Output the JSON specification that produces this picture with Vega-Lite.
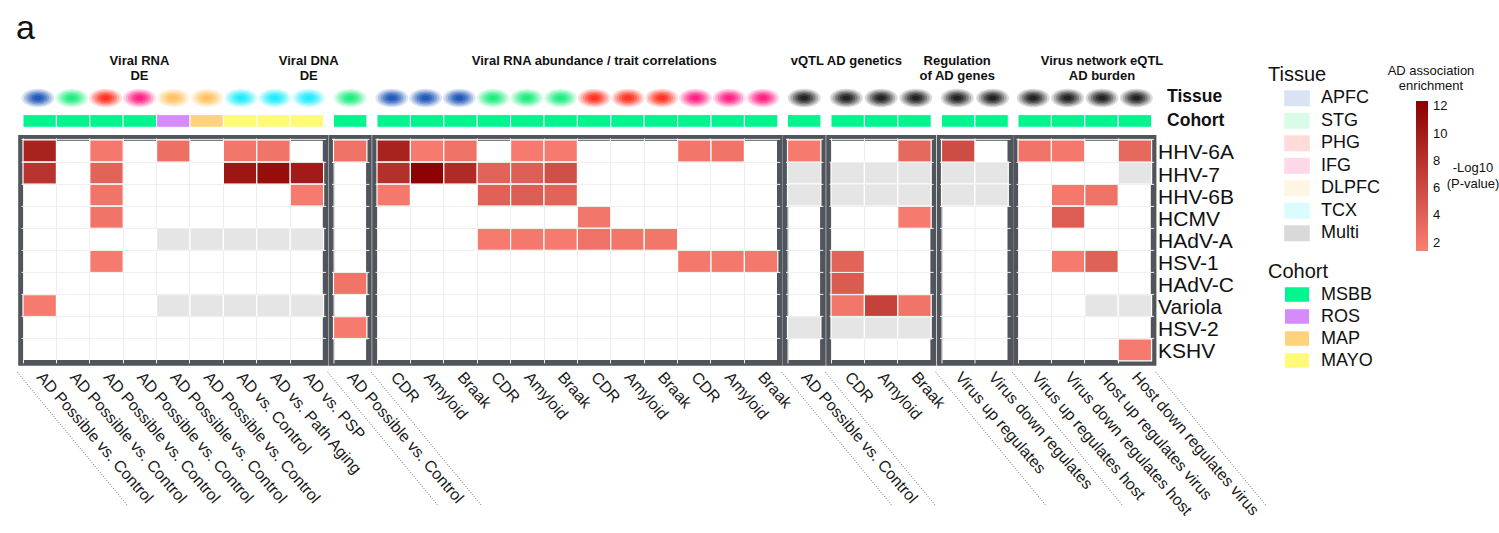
{
"$schema": "https://vega.github.io/schema/vega-lite/v6.json",
"background": "white",
"padding": {"left": 13, "top": 12, "right": 0, "bottom": 0},
"title": {"text": "a", "anchor": "start", "frame": "group", "dx": -5, "offset": -27, "baseline": "alphabetic", "fontSize": 34, "fontWeight": "normal", "color": "#111111"},
"columns": 7,
"spacing": {"row": 10.3, "column": 5.5},
"bounds": "flush",
"resolve": {"scale": {"color": "independent"}},
"config": {
  "view": {"stroke": null},
  "font": "Liberation Sans",
  "axis": {"labelFont": "Liberation Sans", "titleFont": "Liberation Sans"},
  "legend": {"labelFont": "Liberation Sans", "titleFont": "Liberation Sans"},
  "title": {"font": "Liberation Sans"},
  "text": {"font": "Liberation Sans"}
},
"datasets": {
  "columns": [
    {"c": "01", "col": "01|AD Possible vs. Control", "group": "g1", "tissue": "APFC", "cohort": "MSBB"},
    {"c": "02", "col": "02|AD Possible vs. Control", "group": "g1", "tissue": "STG", "cohort": "MSBB"},
    {"c": "03", "col": "03|AD Possible vs. Control", "group": "g1", "tissue": "PHG", "cohort": "MSBB"},
    {"c": "04", "col": "04|AD Possible vs. Control", "group": "g1", "tissue": "IFG", "cohort": "MSBB"},
    {"c": "05", "col": "05|AD Possible vs. Control", "group": "g1", "tissue": "DLPFC", "cohort": "ROS"},
    {"c": "06", "col": "06|AD Possible vs. Control", "group": "g1", "tissue": "DLPFC", "cohort": "MAP"},
    {"c": "07", "col": "07|AD vs. Control", "group": "g1", "tissue": "TCX", "cohort": "MAYO"},
    {"c": "08", "col": "08|AD vs. Path Aging", "group": "g1", "tissue": "TCX", "cohort": "MAYO"},
    {"c": "09", "col": "09|AD vs. PSP", "group": "g1", "tissue": "TCX", "cohort": "MAYO"},
    {"c": "10", "col": "10|AD Possible vs. Control", "group": "g2", "tissue": "STG", "cohort": "MSBB"},
    {"c": "11", "col": "11|CDR", "group": "g3", "tissue": "APFC", "cohort": "MSBB"},
    {"c": "12", "col": "12|Amyloid", "group": "g3", "tissue": "APFC", "cohort": "MSBB"},
    {"c": "13", "col": "13|Braak", "group": "g3", "tissue": "APFC", "cohort": "MSBB"},
    {"c": "14", "col": "14|CDR", "group": "g3", "tissue": "STG", "cohort": "MSBB"},
    {"c": "15", "col": "15|Amyloid", "group": "g3", "tissue": "STG", "cohort": "MSBB"},
    {"c": "16", "col": "16|Braak", "group": "g3", "tissue": "STG", "cohort": "MSBB"},
    {"c": "17", "col": "17|CDR", "group": "g3", "tissue": "PHG", "cohort": "MSBB"},
    {"c": "18", "col": "18|Amyloid", "group": "g3", "tissue": "PHG", "cohort": "MSBB"},
    {"c": "19", "col": "19|Braak", "group": "g3", "tissue": "PHG", "cohort": "MSBB"},
    {"c": "20", "col": "20|CDR", "group": "g3", "tissue": "IFG", "cohort": "MSBB"},
    {"c": "21", "col": "21|Amyloid", "group": "g3", "tissue": "IFG", "cohort": "MSBB"},
    {"c": "22", "col": "22|Braak", "group": "g3", "tissue": "IFG", "cohort": "MSBB"},
    {"c": "23", "col": "23|AD Possible vs. Control", "group": "g4", "tissue": "Multi", "cohort": "MSBB"},
    {"c": "24", "col": "24|CDR", "group": "g5", "tissue": "Multi", "cohort": "MSBB"},
    {"c": "25", "col": "25|Amyloid", "group": "g5", "tissue": "Multi", "cohort": "MSBB"},
    {"c": "26", "col": "26|Braak", "group": "g5", "tissue": "Multi", "cohort": "MSBB"},
    {"c": "27", "col": "27|Virus up regulates", "group": "g6", "tissue": "Multi", "cohort": "MSBB"},
    {"c": "28", "col": "28|Virus down regulates", "group": "g6", "tissue": "Multi", "cohort": "MSBB"},
    {"c": "29", "col": "29|Virus up regulates host", "group": "g7", "tissue": "Multi", "cohort": "MSBB"},
    {"c": "30", "col": "30|Virus down regulates host", "group": "g7", "tissue": "Multi", "cohort": "MSBB"},
    {"c": "31", "col": "31|Host up regulates virus", "group": "g7", "tissue": "Multi", "cohort": "MSBB"},
    {"c": "32", "col": "32|Host down regulates virus", "group": "g7", "tissue": "Multi", "cohort": "MSBB"}
  ],
  "headers": [
    {"group": "g1", "col": "04|AD Possible vs. Control", "text": "Viral RNA\nDE"},
    {"group": "g1", "col": "09|AD vs. PSP", "text": "Viral DNA\nDE"},
    {"group": "g3", "col": "17|CDR", "text": "Viral RNA abundance / trait correlations"},
    {"group": "g5", "col": "24|CDR", "text": "vQTL AD genetics"},
    {"group": "g6", "col": "27|Virus up regulates", "text": "Regulation\nof AD genes"},
    {"group": "g7", "col": "31|Host up regulates virus", "text": "Virus network eQTL\nAD burden"}
  ],
  "cells": [
    {"c": "01", "virus": "HHV-6A", "p": 9.5},
    {"c": "03", "virus": "HHV-6A", "p": 2.0},
    {"c": "05", "virus": "HHV-6A", "p": 2.8},
    {"c": "07", "virus": "HHV-6A", "p": 2.2},
    {"c": "08", "virus": "HHV-6A", "p": 2.4},
    {"c": "01", "virus": "HHV-7", "p": 7.9},
    {"c": "03", "virus": "HHV-7", "p": 3.8},
    {"c": "07", "virus": "HHV-7", "p": 10.5},
    {"c": "08", "virus": "HHV-7", "p": 11.3},
    {"c": "09", "virus": "HHV-7", "p": 10.1},
    {"c": "03", "virus": "HHV-6B", "p": 2.4},
    {"c": "09", "virus": "HHV-6B", "p": 1.8},
    {"c": "03", "virus": "HCMV", "p": 2.4},
    {"c": "05", "virus": "HAdV-A", "p": null},
    {"c": "06", "virus": "HAdV-A", "p": null},
    {"c": "07", "virus": "HAdV-A", "p": null},
    {"c": "08", "virus": "HAdV-A", "p": null},
    {"c": "09", "virus": "HAdV-A", "p": null},
    {"c": "03", "virus": "HSV-1", "p": 1.8},
    {"c": "01", "virus": "Variola", "p": 1.8},
    {"c": "05", "virus": "Variola", "p": null},
    {"c": "06", "virus": "Variola", "p": null},
    {"c": "07", "virus": "Variola", "p": null},
    {"c": "08", "virus": "Variola", "p": null},
    {"c": "09", "virus": "Variola", "p": null},
    {"c": "10", "virus": "HHV-6A", "p": 2.6},
    {"c": "10", "virus": "HAdV-C", "p": 2.4},
    {"c": "10", "virus": "HSV-2", "p": 1.8},
    {"c": "11", "virus": "HHV-6A", "p": 9.5},
    {"c": "12", "virus": "HHV-6A", "p": 1.8},
    {"c": "13", "virus": "HHV-6A", "p": 2.6},
    {"c": "15", "virus": "HHV-6A", "p": 1.8},
    {"c": "16", "virus": "HHV-6A", "p": 1.8},
    {"c": "20", "virus": "HHV-6A", "p": 2.2},
    {"c": "21", "virus": "HHV-6A", "p": 2.4},
    {"c": "11", "virus": "HHV-7", "p": 8.3},
    {"c": "12", "virus": "HHV-7", "p": 12.2},
    {"c": "13", "virus": "HHV-7", "p": 8.7},
    {"c": "14", "virus": "HHV-7", "p": 3.8},
    {"c": "15", "virus": "HHV-7", "p": 4.2},
    {"c": "16", "virus": "HHV-7", "p": 5.6},
    {"c": "11", "virus": "HHV-6B", "p": 2.0},
    {"c": "14", "virus": "HHV-6B", "p": 4.0},
    {"c": "15", "virus": "HHV-6B", "p": 4.4},
    {"c": "16", "virus": "HHV-6B", "p": 3.8},
    {"c": "17", "virus": "HCMV", "p": 2.2},
    {"c": "14", "virus": "HAdV-A", "p": 1.8},
    {"c": "15", "virus": "HAdV-A", "p": 2.0},
    {"c": "16", "virus": "HAdV-A", "p": 1.8},
    {"c": "17", "virus": "HAdV-A", "p": 2.6},
    {"c": "18", "virus": "HAdV-A", "p": 2.2},
    {"c": "19", "virus": "HAdV-A", "p": 2.2},
    {"c": "20", "virus": "HSV-1", "p": 2.0},
    {"c": "21", "virus": "HSV-1", "p": 2.0},
    {"c": "22", "virus": "HSV-1", "p": 2.0},
    {"c": "23", "virus": "HHV-6A", "p": 1.8},
    {"c": "23", "virus": "HHV-7", "p": null},
    {"c": "23", "virus": "HHV-6B", "p": null},
    {"c": "23", "virus": "HSV-2", "p": null},
    {"c": "26", "virus": "HHV-6A", "p": 3.4},
    {"c": "24", "virus": "HHV-7", "p": null},
    {"c": "25", "virus": "HHV-7", "p": null},
    {"c": "26", "virus": "HHV-7", "p": null},
    {"c": "24", "virus": "HHV-6B", "p": null},
    {"c": "25", "virus": "HHV-6B", "p": null},
    {"c": "26", "virus": "HHV-6B", "p": null},
    {"c": "26", "virus": "HCMV", "p": 1.8},
    {"c": "24", "virus": "HSV-1", "p": 3.8},
    {"c": "24", "virus": "HAdV-C", "p": 4.6},
    {"c": "24", "virus": "Variola", "p": 2.2},
    {"c": "25", "virus": "Variola", "p": 6.7},
    {"c": "26", "virus": "Variola", "p": 2.4},
    {"c": "24", "virus": "HSV-2", "p": null},
    {"c": "25", "virus": "HSV-2", "p": null},
    {"c": "26", "virus": "HSV-2", "p": null},
    {"c": "27", "virus": "HHV-6A", "p": 5.9},
    {"c": "27", "virus": "HHV-7", "p": null},
    {"c": "28", "virus": "HHV-7", "p": null},
    {"c": "27", "virus": "HHV-6B", "p": null},
    {"c": "28", "virus": "HHV-6B", "p": null},
    {"c": "29", "virus": "HHV-6A", "p": 2.4},
    {"c": "30", "virus": "HHV-6A", "p": 2.0},
    {"c": "32", "virus": "HHV-6A", "p": 3.4},
    {"c": "32", "virus": "HHV-7", "p": null},
    {"c": "30", "virus": "HHV-6B", "p": 2.0},
    {"c": "31", "virus": "HHV-6B", "p": 2.6},
    {"c": "30", "virus": "HCMV", "p": 4.4},
    {"c": "30", "virus": "HSV-1", "p": 1.8},
    {"c": "31", "virus": "HSV-1", "p": 4.0},
    {"c": "31", "virus": "Variola", "p": null},
    {"c": "32", "virus": "Variola", "p": null},
    {"c": "32", "virus": "KSHV", "p": 1.8}
  ]
},
"concat": [
  {
    "width": 304.6, "height": 36,
    "encoding": {"x": {"field": "col", "type": "nominal", "scale": {"paddingInner": 0, "paddingOuter": 0.06}, "axis": null}},
    "layer": [
      {"data": {"name": "columns"}, "transform": [{"filter": "datum.group == 'g1'"}], "mark": {"type": "point", "opacity": 0}},
      {"data": {"name": "headers"}, "transform": [{"filter": "datum.col == '04|AD Possible vs. Control'"}],
       "mark": {"type": "text", "fontSize": 13, "fontWeight": "bold", "lineBreak": "\n", "lineHeight": 15, "align": "center", "baseline": "middle", "dy": -3, "color": "#111111"},
       "encoding": {"x": {"field": "col", "type": "nominal", "bandPosition": 0.45, "axis": null}, "text": {"field": "text"}}},
      {"data": {"name": "headers"}, "transform": [{"filter": "datum.col == '09|AD vs. PSP'"}],
       "mark": {"type": "text", "fontSize": 13, "fontWeight": "bold", "lineBreak": "\n", "lineHeight": 15, "align": "center", "baseline": "middle", "dy": -3, "color": "#111111"},
       "encoding": {"x": {"field": "col", "type": "nominal", "bandPosition": 0.3, "axis": null}, "text": {"field": "text"}}}
    ]
  },
  {
    "width": 37.4, "height": 36,
    "data": {"name": "columns"}, "transform": [{"filter": "datum.group == 'g2'"}],
    "mark": {"type": "point", "opacity": 0},
    "encoding": {"x": {"field": "col", "type": "nominal", "axis": null}}
  },
  {
    "width": 404.8, "height": 36,
    "encoding": {"x": {"field": "col", "type": "nominal", "scale": {"paddingInner": 0, "paddingOuter": 0.06}, "axis": null}},
    "layer": [
      {"data": {"name": "columns"}, "transform": [{"filter": "datum.group == 'g3'"}], "mark": {"type": "point", "opacity": 0}},
      {"data": {"name": "headers"}, "transform": [{"filter": "datum.group == 'g3'"}],
       "mark": {"type": "text", "fontSize": 13, "fontWeight": "bold", "lineBreak": "\n", "lineHeight": 15, "align": "center", "baseline": "middle", "dy": -3, "color": "#111111"},
       "encoding": {"x": {"field": "col", "type": "nominal", "bandPosition": 0, "axis": null}, "text": {"field": "text"}}}
    ]
  },
  {
    "width": 37.4, "height": 36,
    "data": {"name": "columns"}, "transform": [{"filter": "datum.group == 'g4'"}],
    "mark": {"type": "point", "opacity": 0},
    "encoding": {"x": {"field": "col", "type": "nominal", "axis": null}}
  },
  {
    "width": 104.2, "height": 36,
    "encoding": {"x": {"field": "col", "type": "nominal", "scale": {"paddingInner": 0, "paddingOuter": 0.06}, "axis": null}},
    "layer": [
      {"data": {"name": "columns"}, "transform": [{"filter": "datum.group == 'g5'"}], "mark": {"type": "point", "opacity": 0}},
      {"data": {"name": "headers"}, "transform": [{"filter": "datum.group == 'g5'"}],
       "mark": {"type": "text", "fontSize": 13, "fontWeight": "bold", "lineBreak": "\n", "lineHeight": 15, "align": "center", "baseline": "middle", "dy": -3, "color": "#111111"},
       "encoding": {"x": {"field": "col", "type": "nominal", "bandPosition": 0.1, "axis": null}, "text": {"field": "text"}}}
    ]
  },
  {
    "width": 70.8, "height": 36,
    "encoding": {"x": {"field": "col", "type": "nominal", "scale": {"paddingInner": 0, "paddingOuter": 0.06}, "axis": null}},
    "layer": [
      {"data": {"name": "columns"}, "transform": [{"filter": "datum.group == 'g6'"}], "mark": {"type": "point", "opacity": 0}},
      {"data": {"name": "headers"}, "transform": [{"filter": "datum.group == 'g6'"}],
       "mark": {"type": "text", "fontSize": 13, "fontWeight": "bold", "lineBreak": "\n", "lineHeight": 15, "align": "center", "baseline": "middle", "dy": -3, "color": "#111111"},
       "encoding": {"x": {"field": "col", "type": "nominal", "bandPosition": 0.33, "axis": null}, "text": {"field": "text"}}}
    ]
  },
  {
    "width": 137.6, "height": 36,
    "encoding": {"x": {"field": "col", "type": "nominal", "scale": {"paddingInner": 0, "paddingOuter": 0.06}, "axis": null}},
    "layer": [
      {"data": {"name": "columns"}, "transform": [{"filter": "datum.group == 'g7'"}], "mark": {"type": "point", "opacity": 0}},
      {"data": {"name": "headers"}, "transform": [{"filter": "datum.group == 'g7'"}],
       "mark": {"type": "text", "fontSize": 13, "fontWeight": "bold", "lineBreak": "\n", "lineHeight": 15, "align": "center", "baseline": "middle", "dy": -3, "color": "#111111"},
       "encoding": {"x": {"field": "col", "type": "nominal", "bandPosition": 0.15, "axis": null}, "text": {"field": "text"}}}
    ]
  },

  {
    "width": 304.6, "height": 11.4,
    "data": {"name": "columns"}, "transform": [{"filter": "datum.group == 'g1'"}],
    "encoding": {
      "x": {"field": "col", "type": "nominal", "scale": {"paddingInner": 0, "paddingOuter": 0.06}, "axis": null},
      "y": {"datum": "Tissue", "type": "nominal", "scale": {"paddingInner": 0, "paddingOuter": 0}, "axis": null},
      "color": {"field": "tissue", "type": "nominal",
        "scale": {"domain": ["APFC", "STG", "PHG", "IFG", "DLPFC", "TCX", "Multi"], "range": ["#0040b0", "#00ea6d", "#ff1500", "#ff0074", "#ffba4c", "#00eaff", "#000000"]},
        "legend": {"orient": "none", "legendX": 1247, "legendY": -27, "title": "Tissue", "titleFontSize": 20, "titleFontWeight": "normal", "titleColor": "#111111", "titlePadding": 4,
          "labelFontSize": 18, "labelColor": "#111111", "labelOffset": 15, "symbolType": "M-1.6,-1H1.6V1H-1.6Z", "symbolSize": 256, "symbolOffset": 20, "rowPadding": 4.5, "padding": 0,
          "encode": {"symbols": {"update": {"opacity": {"value": 1}, "fillOpacity": {"value": 0.6}, "stroke": {"value": "#b9b9b9"}, "strokeWidth": {"value": 1}}}}}}
    },
    "layer": [
      {"mark": {"type": "point", "filled": true, "shape": "M-1,0A1,0.56,0,1,1,1,0A1,0.56,0,1,1,-1,0Z", "size": 1089, "opacity": 0.15, "strokeWidth": 0}},
      {"mark": {"type": "point", "filled": true, "shape": "M-1,0A1,0.56,0,1,1,1,0A1,0.56,0,1,1,-1,0Z", "size": 784, "opacity": 0.2, "strokeWidth": 0}},
      {"mark": {"type": "point", "filled": true, "shape": "M-1,0A1,0.56,0,1,1,1,0A1,0.56,0,1,1,-1,0Z", "size": 529, "opacity": 0.25, "strokeWidth": 0}},
      {"mark": {"type": "point", "filled": true, "shape": "M-1,0A1,0.56,0,1,1,1,0A1,0.56,0,1,1,-1,0Z", "size": 324, "opacity": 0.3, "strokeWidth": 0}},
      {"mark": {"type": "point", "filled": true, "shape": "M-1,0A1,0.56,0,1,1,1,0A1,0.56,0,1,1,-1,0Z", "size": 169, "opacity": 0.35, "strokeWidth": 0}},
      {"mark": {"type": "point", "filled": true, "shape": "M-1,0A1,0.56,0,1,1,1,0A1,0.56,0,1,1,-1,0Z", "size": 64, "opacity": 0.4, "strokeWidth": 0}}
    ]
  },
  {
    "width": 37.4, "height": 11.4,
    "data": {"name": "columns"}, "transform": [{"filter": "datum.group == 'g2'"}],
    "encoding": {
      "x": {"field": "col", "type": "nominal", "scale": {"paddingInner": 0, "paddingOuter": 0.06}, "axis": null},
      "y": {"datum": "Tissue", "type": "nominal", "scale": {"paddingInner": 0, "paddingOuter": 0}, "axis": null},
      "color": {"field": "tissue", "type": "nominal", "legend": null, "scale": {"domain": ["APFC", "STG", "PHG", "IFG", "DLPFC", "TCX", "Multi"], "range": ["#0040b0", "#00ea6d", "#ff1500", "#ff0074", "#ffba4c", "#00eaff", "#000000"]}}
    },
    "layer": [
      {"mark": {"type": "point", "filled": true, "shape": "M-1,0A1,0.56,0,1,1,1,0A1,0.56,0,1,1,-1,0Z", "size": 1089, "opacity": 0.15, "strokeWidth": 0}},
      {"mark": {"type": "point", "filled": true, "shape": "M-1,0A1,0.56,0,1,1,1,0A1,0.56,0,1,1,-1,0Z", "size": 784, "opacity": 0.2, "strokeWidth": 0}},
      {"mark": {"type": "point", "filled": true, "shape": "M-1,0A1,0.56,0,1,1,1,0A1,0.56,0,1,1,-1,0Z", "size": 529, "opacity": 0.25, "strokeWidth": 0}},
      {"mark": {"type": "point", "filled": true, "shape": "M-1,0A1,0.56,0,1,1,1,0A1,0.56,0,1,1,-1,0Z", "size": 324, "opacity": 0.3, "strokeWidth": 0}},
      {"mark": {"type": "point", "filled": true, "shape": "M-1,0A1,0.56,0,1,1,1,0A1,0.56,0,1,1,-1,0Z", "size": 169, "opacity": 0.35, "strokeWidth": 0}},
      {"mark": {"type": "point", "filled": true, "shape": "M-1,0A1,0.56,0,1,1,1,0A1,0.56,0,1,1,-1,0Z", "size": 64, "opacity": 0.4, "strokeWidth": 0}}
    ]
  },
  {
    "width": 404.8, "height": 11.4,
    "data": {"name": "columns"}, "transform": [{"filter": "datum.group == 'g3'"}],
    "encoding": {
      "x": {"field": "col", "type": "nominal", "scale": {"paddingInner": 0, "paddingOuter": 0.06}, "axis": null},
      "y": {"datum": "Tissue", "type": "nominal", "scale": {"paddingInner": 0, "paddingOuter": 0}, "axis": null},
      "color": {"field": "tissue", "type": "nominal", "legend": null, "scale": {"domain": ["APFC", "STG", "PHG", "IFG", "DLPFC", "TCX", "Multi"], "range": ["#0040b0", "#00ea6d", "#ff1500", "#ff0074", "#ffba4c", "#00eaff", "#000000"]}}
    },
    "layer": [
      {"mark": {"type": "point", "filled": true, "shape": "M-1,0A1,0.56,0,1,1,1,0A1,0.56,0,1,1,-1,0Z", "size": 1089, "opacity": 0.15, "strokeWidth": 0}},
      {"mark": {"type": "point", "filled": true, "shape": "M-1,0A1,0.56,0,1,1,1,0A1,0.56,0,1,1,-1,0Z", "size": 784, "opacity": 0.2, "strokeWidth": 0}},
      {"mark": {"type": "point", "filled": true, "shape": "M-1,0A1,0.56,0,1,1,1,0A1,0.56,0,1,1,-1,0Z", "size": 529, "opacity": 0.25, "strokeWidth": 0}},
      {"mark": {"type": "point", "filled": true, "shape": "M-1,0A1,0.56,0,1,1,1,0A1,0.56,0,1,1,-1,0Z", "size": 324, "opacity": 0.3, "strokeWidth": 0}},
      {"mark": {"type": "point", "filled": true, "shape": "M-1,0A1,0.56,0,1,1,1,0A1,0.56,0,1,1,-1,0Z", "size": 169, "opacity": 0.35, "strokeWidth": 0}},
      {"mark": {"type": "point", "filled": true, "shape": "M-1,0A1,0.56,0,1,1,1,0A1,0.56,0,1,1,-1,0Z", "size": 64, "opacity": 0.4, "strokeWidth": 0}}
    ]
  },
  {
    "width": 37.4, "height": 11.4,
    "data": {"name": "columns"}, "transform": [{"filter": "datum.group == 'g4'"}],
    "encoding": {
      "x": {"field": "col", "type": "nominal", "scale": {"paddingInner": 0, "paddingOuter": 0.06}, "axis": null},
      "y": {"datum": "Tissue", "type": "nominal", "scale": {"paddingInner": 0, "paddingOuter": 0}, "axis": null},
      "color": {"field": "tissue", "type": "nominal", "legend": null, "scale": {"domain": ["APFC", "STG", "PHG", "IFG", "DLPFC", "TCX", "Multi"], "range": ["#0040b0", "#00ea6d", "#ff1500", "#ff0074", "#ffba4c", "#00eaff", "#000000"]}}
    },
    "layer": [
      {"mark": {"type": "point", "filled": true, "shape": "M-1,0A1,0.56,0,1,1,1,0A1,0.56,0,1,1,-1,0Z", "size": 1089, "opacity": 0.15, "strokeWidth": 0}},
      {"mark": {"type": "point", "filled": true, "shape": "M-1,0A1,0.56,0,1,1,1,0A1,0.56,0,1,1,-1,0Z", "size": 784, "opacity": 0.2, "strokeWidth": 0}},
      {"mark": {"type": "point", "filled": true, "shape": "M-1,0A1,0.56,0,1,1,1,0A1,0.56,0,1,1,-1,0Z", "size": 529, "opacity": 0.25, "strokeWidth": 0}},
      {"mark": {"type": "point", "filled": true, "shape": "M-1,0A1,0.56,0,1,1,1,0A1,0.56,0,1,1,-1,0Z", "size": 324, "opacity": 0.3, "strokeWidth": 0}},
      {"mark": {"type": "point", "filled": true, "shape": "M-1,0A1,0.56,0,1,1,1,0A1,0.56,0,1,1,-1,0Z", "size": 169, "opacity": 0.35, "strokeWidth": 0}},
      {"mark": {"type": "point", "filled": true, "shape": "M-1,0A1,0.56,0,1,1,1,0A1,0.56,0,1,1,-1,0Z", "size": 64, "opacity": 0.4, "strokeWidth": 0}}
    ]
  },
  {
    "width": 104.2, "height": 11.4,
    "data": {"name": "columns"}, "transform": [{"filter": "datum.group == 'g5'"}],
    "encoding": {
      "x": {"field": "col", "type": "nominal", "scale": {"paddingInner": 0, "paddingOuter": 0.06}, "axis": null},
      "y": {"datum": "Tissue", "type": "nominal", "scale": {"paddingInner": 0, "paddingOuter": 0}, "axis": null},
      "color": {"field": "tissue", "type": "nominal", "legend": null, "scale": {"domain": ["APFC", "STG", "PHG", "IFG", "DLPFC", "TCX", "Multi"], "range": ["#0040b0", "#00ea6d", "#ff1500", "#ff0074", "#ffba4c", "#00eaff", "#000000"]}}
    },
    "layer": [
      {"mark": {"type": "point", "filled": true, "shape": "M-1,0A1,0.56,0,1,1,1,0A1,0.56,0,1,1,-1,0Z", "size": 1089, "opacity": 0.15, "strokeWidth": 0}},
      {"mark": {"type": "point", "filled": true, "shape": "M-1,0A1,0.56,0,1,1,1,0A1,0.56,0,1,1,-1,0Z", "size": 784, "opacity": 0.2, "strokeWidth": 0}},
      {"mark": {"type": "point", "filled": true, "shape": "M-1,0A1,0.56,0,1,1,1,0A1,0.56,0,1,1,-1,0Z", "size": 529, "opacity": 0.25, "strokeWidth": 0}},
      {"mark": {"type": "point", "filled": true, "shape": "M-1,0A1,0.56,0,1,1,1,0A1,0.56,0,1,1,-1,0Z", "size": 324, "opacity": 0.3, "strokeWidth": 0}},
      {"mark": {"type": "point", "filled": true, "shape": "M-1,0A1,0.56,0,1,1,1,0A1,0.56,0,1,1,-1,0Z", "size": 169, "opacity": 0.35, "strokeWidth": 0}},
      {"mark": {"type": "point", "filled": true, "shape": "M-1,0A1,0.56,0,1,1,1,0A1,0.56,0,1,1,-1,0Z", "size": 64, "opacity": 0.4, "strokeWidth": 0}}
    ]
  },
  {
    "width": 70.8, "height": 11.4,
    "data": {"name": "columns"}, "transform": [{"filter": "datum.group == 'g6'"}],
    "encoding": {
      "x": {"field": "col", "type": "nominal", "scale": {"paddingInner": 0, "paddingOuter": 0.06}, "axis": null},
      "y": {"datum": "Tissue", "type": "nominal", "scale": {"paddingInner": 0, "paddingOuter": 0}, "axis": null},
      "color": {"field": "tissue", "type": "nominal", "legend": null, "scale": {"domain": ["APFC", "STG", "PHG", "IFG", "DLPFC", "TCX", "Multi"], "range": ["#0040b0", "#00ea6d", "#ff1500", "#ff0074", "#ffba4c", "#00eaff", "#000000"]}}
    },
    "layer": [
      {"mark": {"type": "point", "filled": true, "shape": "M-1,0A1,0.56,0,1,1,1,0A1,0.56,0,1,1,-1,0Z", "size": 1089, "opacity": 0.15, "strokeWidth": 0}},
      {"mark": {"type": "point", "filled": true, "shape": "M-1,0A1,0.56,0,1,1,1,0A1,0.56,0,1,1,-1,0Z", "size": 784, "opacity": 0.2, "strokeWidth": 0}},
      {"mark": {"type": "point", "filled": true, "shape": "M-1,0A1,0.56,0,1,1,1,0A1,0.56,0,1,1,-1,0Z", "size": 529, "opacity": 0.25, "strokeWidth": 0}},
      {"mark": {"type": "point", "filled": true, "shape": "M-1,0A1,0.56,0,1,1,1,0A1,0.56,0,1,1,-1,0Z", "size": 324, "opacity": 0.3, "strokeWidth": 0}},
      {"mark": {"type": "point", "filled": true, "shape": "M-1,0A1,0.56,0,1,1,1,0A1,0.56,0,1,1,-1,0Z", "size": 169, "opacity": 0.35, "strokeWidth": 0}},
      {"mark": {"type": "point", "filled": true, "shape": "M-1,0A1,0.56,0,1,1,1,0A1,0.56,0,1,1,-1,0Z", "size": 64, "opacity": 0.4, "strokeWidth": 0}}
    ]
  },
  {
    "width": 137.6, "height": 11.4,
    "data": {"name": "columns"}, "transform": [{"filter": "datum.group == 'g7'"}],
    "encoding": {
      "x": {"field": "col", "type": "nominal", "scale": {"paddingInner": 0, "paddingOuter": 0.06}, "axis": null},
      "y": {"datum": "Tissue", "type": "nominal", "scale": {"paddingInner": 0, "paddingOuter": 0},
        "axis": {"orient": "right", "title": null, "ticks": false, "domain": false, "labelFontSize": 17.5, "labelFontWeight": "bold", "labelPadding": 13, "labelColor": "#111111", "labelOffset": -2}},
      "color": {"field": "tissue", "type": "nominal", "legend": null, "scale": {"domain": ["APFC", "STG", "PHG", "IFG", "DLPFC", "TCX", "Multi"], "range": ["#0040b0", "#00ea6d", "#ff1500", "#ff0074", "#ffba4c", "#00eaff", "#000000"]}}
    },
    "layer": [
      {"mark": {"type": "point", "filled": true, "shape": "M-1,0A1,0.56,0,1,1,1,0A1,0.56,0,1,1,-1,0Z", "size": 1089, "opacity": 0.15, "strokeWidth": 0}},
      {"mark": {"type": "point", "filled": true, "shape": "M-1,0A1,0.56,0,1,1,1,0A1,0.56,0,1,1,-1,0Z", "size": 784, "opacity": 0.2, "strokeWidth": 0}},
      {"mark": {"type": "point", "filled": true, "shape": "M-1,0A1,0.56,0,1,1,1,0A1,0.56,0,1,1,-1,0Z", "size": 529, "opacity": 0.25, "strokeWidth": 0}},
      {"mark": {"type": "point", "filled": true, "shape": "M-1,0A1,0.56,0,1,1,1,0A1,0.56,0,1,1,-1,0Z", "size": 324, "opacity": 0.3, "strokeWidth": 0}},
      {"mark": {"type": "point", "filled": true, "shape": "M-1,0A1,0.56,0,1,1,1,0A1,0.56,0,1,1,-1,0Z", "size": 169, "opacity": 0.35, "strokeWidth": 0}},
      {"mark": {"type": "point", "filled": true, "shape": "M-1,0A1,0.56,0,1,1,1,0A1,0.56,0,1,1,-1,0Z", "size": 64, "opacity": 0.4, "strokeWidth": 0}}
    ]
  },

  {
    "width": 304.6, "height": 12.7,
    "data": {"name": "columns"}, "transform": [{"filter": "datum.group == 'g1'"}],
    "mark": {"type": "rect", "stroke": "white", "strokeWidth": 1},
    "encoding": {
      "x": {"field": "col", "type": "nominal", "scale": {"paddingInner": 0, "paddingOuter": 0.06}, "axis": null},
      "y": {"datum": "Cohort", "type": "nominal", "scale": {"paddingInner": 0, "paddingOuter": 0}, "axis": null},
      "color": {"field": "cohort", "type": "nominal", "scale": {"domain": ["MSBB", "ROS", "MAP", "MAYO"], "range": ["#00f58f", "#d68bfc", "#ffd37c", "#fffb78"]},
        "legend": {"orient": "none", "legendX": 1247, "legendY": 147, "title": "Cohort", "titleFontSize": 20, "titleFontWeight": "normal", "titleColor": "#111111", "titlePadding": 4,
          "labelFontSize": 18, "labelColor": "#111111", "labelOffset": 15, "symbolType": "M-1.6,-1H1.6V1H-1.6Z", "symbolSize": 256, "symbolOffset": 20, "rowPadding": 0, "padding": 0,
          "encode": {"symbols": {"update": {"opacity": {"value": 1}, "fillOpacity": {"value": 1}, "stroke": {"value": "#b9b9b9"}, "strokeWidth": {"value": 1}}}}}}
    }
  },
  {
    "width": 37.4, "height": 12.7,
    "data": {"name": "columns"}, "transform": [{"filter": "datum.group == 'g2'"}],
    "mark": {"type": "rect", "stroke": "white", "strokeWidth": 1},
    "encoding": {
      "x": {"field": "col", "type": "nominal", "scale": {"paddingInner": 0, "paddingOuter": 0.06}, "axis": null},
      "y": {"datum": "Cohort", "type": "nominal", "scale": {"paddingInner": 0, "paddingOuter": 0}, "axis": null},
      "color": {"field": "cohort", "type": "nominal", "legend": null, "scale": {"domain": ["MSBB", "ROS", "MAP", "MAYO"], "range": ["#00f58f", "#d68bfc", "#ffd37c", "#fffb78"]}}
    }
  },
  {
    "width": 404.8, "height": 12.7,
    "data": {"name": "columns"}, "transform": [{"filter": "datum.group == 'g3'"}],
    "mark": {"type": "rect", "stroke": "white", "strokeWidth": 1},
    "encoding": {
      "x": {"field": "col", "type": "nominal", "scale": {"paddingInner": 0, "paddingOuter": 0.06}, "axis": null},
      "y": {"datum": "Cohort", "type": "nominal", "scale": {"paddingInner": 0, "paddingOuter": 0}, "axis": null},
      "color": {"field": "cohort", "type": "nominal", "legend": null, "scale": {"domain": ["MSBB", "ROS", "MAP", "MAYO"], "range": ["#00f58f", "#d68bfc", "#ffd37c", "#fffb78"]}}
    }
  },
  {
    "width": 37.4, "height": 12.7,
    "data": {"name": "columns"}, "transform": [{"filter": "datum.group == 'g4'"}],
    "mark": {"type": "rect", "stroke": "white", "strokeWidth": 1},
    "encoding": {
      "x": {"field": "col", "type": "nominal", "scale": {"paddingInner": 0, "paddingOuter": 0.06}, "axis": null},
      "y": {"datum": "Cohort", "type": "nominal", "scale": {"paddingInner": 0, "paddingOuter": 0}, "axis": null},
      "color": {"field": "cohort", "type": "nominal", "legend": null, "scale": {"domain": ["MSBB", "ROS", "MAP", "MAYO"], "range": ["#00f58f", "#d68bfc", "#ffd37c", "#fffb78"]}}
    }
  },
  {
    "width": 104.2, "height": 12.7,
    "data": {"name": "columns"}, "transform": [{"filter": "datum.group == 'g5'"}],
    "mark": {"type": "rect", "stroke": "white", "strokeWidth": 1},
    "encoding": {
      "x": {"field": "col", "type": "nominal", "scale": {"paddingInner": 0, "paddingOuter": 0.06}, "axis": null},
      "y": {"datum": "Cohort", "type": "nominal", "scale": {"paddingInner": 0, "paddingOuter": 0}, "axis": null},
      "color": {"field": "cohort", "type": "nominal", "legend": null, "scale": {"domain": ["MSBB", "ROS", "MAP", "MAYO"], "range": ["#00f58f", "#d68bfc", "#ffd37c", "#fffb78"]}}
    }
  },
  {
    "width": 70.8, "height": 12.7,
    "data": {"name": "columns"}, "transform": [{"filter": "datum.group == 'g6'"}],
    "mark": {"type": "rect", "stroke": "white", "strokeWidth": 1},
    "encoding": {
      "x": {"field": "col", "type": "nominal", "scale": {"paddingInner": 0, "paddingOuter": 0.06}, "axis": null},
      "y": {"datum": "Cohort", "type": "nominal", "scale": {"paddingInner": 0, "paddingOuter": 0}, "axis": null},
      "color": {"field": "cohort", "type": "nominal", "legend": null, "scale": {"domain": ["MSBB", "ROS", "MAP", "MAYO"], "range": ["#00f58f", "#d68bfc", "#ffd37c", "#fffb78"]}}
    }
  },
  {
    "width": 137.6, "height": 12.7,
    "data": {"name": "columns"}, "transform": [{"filter": "datum.group == 'g7'"}],
    "mark": {"type": "rect", "stroke": "white", "strokeWidth": 1},
    "encoding": {
      "x": {"field": "col", "type": "nominal", "scale": {"paddingInner": 0, "paddingOuter": 0.06}, "axis": null},
      "y": {"datum": "Cohort", "type": "nominal", "scale": {"paddingInner": 0, "paddingOuter": 0},
        "axis": {"orient": "right", "title": null, "ticks": false, "domain": false, "labelFontSize": 17.5, "labelFontWeight": "bold", "labelPadding": 13, "labelColor": "#111111"}},
      "color": {"field": "cohort", "type": "nominal", "legend": null, "scale": {"domain": ["MSBB", "ROS", "MAP", "MAYO"], "range": ["#00f58f", "#d68bfc", "#ffd37c", "#fffb78"]}}
    }
  },

  {
    "width": 304.6, "height": 225,
    "view": {"stroke": "#50545b", "strokeWidth": 5.6},
    "encoding": {
      "x": {"field": "col", "type": "nominal", "scale": {"paddingInner": 0, "paddingOuter": 0.06},
        "axis": {"title": null, "labelAngle": 49, "labelAlign": "left", "labelBaseline": "middle", "labelPadding": 11, "labelFontSize": 16, "labelColor": "#1a1a1a", "labelLimit": 400, "labelOverlap": false, "labelBound": false, "labelFlush": false, "labelExpr": "split(datum.value, '|')[1]", "ticks": false, "domain": false, "grid": true, "gridColor": "#eeeeee", "bandPosition": 0}},
      "y": {"field": "virus", "type": "nominal", "scale": {"domain": ["HHV-6A", "HHV-7", "HHV-6B", "HCMV", "HAdV-A", "HSV-1", "HAdV-C", "Variola", "HSV-2", "KSHV"], "paddingInner": 0, "paddingOuter": 0.09},
        "axis": {"title": null, "labels": false, "ticks": false, "domain": false, "grid": true, "gridColor": "#eeeeee", "bandPosition": 0}}
    },
    "layer": [
      {"data": {"name": "columns"}, "transform": [{"filter": "datum.group == 'g1'"}], "mark": {"type": "point", "opacity": 0}, "encoding": {"y": {"value": 0}}},
      {"data": {"name": "cells"}, "transform": [{"lookup": "c", "from": {"data": {"name": "columns"}, "key": "c", "fields": ["col", "group"]}}, {"filter": "datum.group == 'g1' && datum.p === null"}],
       "mark": {"type": "rect", "fill": "#e5e5e5", "stroke": "white", "strokeWidth": 1.2}},
      {"data": {"name": "cells"}, "transform": [{"lookup": "c", "from": {"data": {"name": "columns"}, "key": "c", "fields": ["col", "group"]}}, {"filter": "datum.group == 'g1' && datum.p !== null"}],
       "mark": {"type": "rect", "stroke": "white", "strokeWidth": 1.2},
       "encoding": {"color": {"field": "p", "type": "quantitative", "scale": {"domain": [1.4, 12.4], "range": ["#fa8072", "#8b0000"], "interpolate": "rgb"},
         "legend": {"orient": "none", "legendX": 1395, "legendY": -37, "direction": "vertical", "title": ["-Log10", "(P-value)"], "titleOrient": "right", "titleAnchor": "middle", "titleFontSize": 13, "titleFontWeight": "normal", "titleColor": "#111111", "titleLineHeight": 16, "titlePadding": 26,
           "gradientLength": 150, "gradientThickness": 12, "gradientStrokeWidth": 0, "labelFontSize": 13, "labelColor": "#111111", "labelOffset": 5, "labelOverlap": false, "values": [2, 4, 6, 8, 10, 12], "padding": 0,
           "encode": {"title": {"update": {"angle": {"value": 0}, "align": {"value": "center"}, "baseline": {"value": "middle"}}}}}}}},
      {"data": {"values": [{"edge": "start"}]}, "mark": {"type": "rule", "xOffset": -4, "yOffset": 9, "x2Offset": 106, "y2Offset": 142, "color": "#666666", "strokeWidth": 0.9, "strokeDash": [1, 1.6]},
       "encoding": {"x": {"value": 0}, "x2": {"value": 0}, "y": {"value": "height"}, "y2": {"value": "height"}}}
    ]
  },
  {
    "width": 37.4, "height": 225,
    "view": {"stroke": "#50545b", "strokeWidth": 5.6},
    "encoding": {
      "x": {"field": "col", "type": "nominal", "scale": {"paddingInner": 0, "paddingOuter": 0.06},
        "axis": {"title": null, "labelAngle": 49, "labelAlign": "left", "labelBaseline": "middle", "labelPadding": 11, "labelFontSize": 16, "labelColor": "#1a1a1a", "labelLimit": 400, "labelOverlap": false, "labelBound": false, "labelFlush": false, "labelExpr": "split(datum.value, '|')[1]", "ticks": false, "domain": false, "grid": true, "gridColor": "#eeeeee", "bandPosition": 0}},
      "y": {"field": "virus", "type": "nominal", "scale": {"domain": ["HHV-6A", "HHV-7", "HHV-6B", "HCMV", "HAdV-A", "HSV-1", "HAdV-C", "Variola", "HSV-2", "KSHV"], "paddingInner": 0, "paddingOuter": 0.09},
        "axis": {"title": null, "labels": false, "ticks": false, "domain": false, "grid": true, "gridColor": "#eeeeee", "bandPosition": 0}}
    },
    "layer": [
      {"data": {"name": "columns"}, "transform": [{"filter": "datum.group == 'g2'"}], "mark": {"type": "point", "opacity": 0}, "encoding": {"y": {"value": 0}}},
      {"data": {"name": "cells"}, "transform": [{"lookup": "c", "from": {"data": {"name": "columns"}, "key": "c", "fields": ["col", "group"]}}, {"filter": "datum.group == 'g2' && datum.p === null"}],
       "mark": {"type": "rect", "fill": "#e5e5e5", "stroke": "white", "strokeWidth": 1.2}},
      {"data": {"name": "cells"}, "transform": [{"lookup": "c", "from": {"data": {"name": "columns"}, "key": "c", "fields": ["col", "group"]}}, {"filter": "datum.group == 'g2' && datum.p !== null"}],
       "mark": {"type": "rect", "stroke": "white", "strokeWidth": 1.2},
       "encoding": {"color": {"field": "p", "type": "quantitative", "legend": null, "scale": {"domain": [1.4, 12.4], "range": ["#fa8072", "#8b0000"], "interpolate": "rgb"}}}},
      {"data": {"values": [{"edge": "start"}]}, "mark": {"type": "rule", "xOffset": -4, "yOffset": 9, "x2Offset": 106, "y2Offset": 142, "color": "#666666", "strokeWidth": 0.9, "strokeDash": [1, 1.6]},
       "encoding": {"x": {"value": 0}, "x2": {"value": 0}, "y": {"value": "height"}, "y2": {"value": "height"}}}
    ]
  },
  {
    "width": 404.8, "height": 225,
    "view": {"stroke": "#50545b", "strokeWidth": 5.6},
    "encoding": {
      "x": {"field": "col", "type": "nominal", "scale": {"paddingInner": 0, "paddingOuter": 0.06},
        "axis": {"title": null, "labelAngle": 49, "labelAlign": "left", "labelBaseline": "middle", "labelPadding": 11, "labelFontSize": 16, "labelColor": "#1a1a1a", "labelLimit": 400, "labelOverlap": false, "labelBound": false, "labelFlush": false, "labelExpr": "split(datum.value, '|')[1]", "ticks": false, "domain": false, "grid": true, "gridColor": "#eeeeee", "bandPosition": 0}},
      "y": {"field": "virus", "type": "nominal", "scale": {"domain": ["HHV-6A", "HHV-7", "HHV-6B", "HCMV", "HAdV-A", "HSV-1", "HAdV-C", "Variola", "HSV-2", "KSHV"], "paddingInner": 0, "paddingOuter": 0.09},
        "axis": {"title": null, "labels": false, "ticks": false, "domain": false, "grid": true, "gridColor": "#eeeeee", "bandPosition": 0}}
    },
    "layer": [
      {"data": {"name": "columns"}, "transform": [{"filter": "datum.group == 'g3'"}], "mark": {"type": "point", "opacity": 0}, "encoding": {"y": {"value": 0}}},
      {"data": {"name": "cells"}, "transform": [{"lookup": "c", "from": {"data": {"name": "columns"}, "key": "c", "fields": ["col", "group"]}}, {"filter": "datum.group == 'g3' && datum.p === null"}],
       "mark": {"type": "rect", "fill": "#e5e5e5", "stroke": "white", "strokeWidth": 1.2}},
      {"data": {"name": "cells"}, "transform": [{"lookup": "c", "from": {"data": {"name": "columns"}, "key": "c", "fields": ["col", "group"]}}, {"filter": "datum.group == 'g3' && datum.p !== null"}],
       "mark": {"type": "rect", "stroke": "white", "strokeWidth": 1.2},
       "encoding": {"color": {"field": "p", "type": "quantitative", "legend": null, "scale": {"domain": [1.4, 12.4], "range": ["#fa8072", "#8b0000"], "interpolate": "rgb"}}}},
      {"data": {"values": [{"edge": "start"}]}, "mark": {"type": "rule", "xOffset": -4, "yOffset": 9, "x2Offset": 106, "y2Offset": 142, "color": "#666666", "strokeWidth": 0.9, "strokeDash": [1, 1.6]},
       "encoding": {"x": {"value": 0}, "x2": {"value": 0}, "y": {"value": "height"}, "y2": {"value": "height"}}}
    ]
  },
  {
    "width": 37.4, "height": 225,
    "view": {"stroke": "#50545b", "strokeWidth": 5.6},
    "encoding": {
      "x": {"field": "col", "type": "nominal", "scale": {"paddingInner": 0, "paddingOuter": 0.06},
        "axis": {"title": null, "labelAngle": 49, "labelAlign": "left", "labelBaseline": "middle", "labelPadding": 11, "labelFontSize": 16, "labelColor": "#1a1a1a", "labelLimit": 400, "labelOverlap": false, "labelBound": false, "labelFlush": false, "labelExpr": "split(datum.value, '|')[1]", "ticks": false, "domain": false, "grid": true, "gridColor": "#eeeeee", "bandPosition": 0}},
      "y": {"field": "virus", "type": "nominal", "scale": {"domain": ["HHV-6A", "HHV-7", "HHV-6B", "HCMV", "HAdV-A", "HSV-1", "HAdV-C", "Variola", "HSV-2", "KSHV"], "paddingInner": 0, "paddingOuter": 0.09},
        "axis": {"title": null, "labels": false, "ticks": false, "domain": false, "grid": true, "gridColor": "#eeeeee", "bandPosition": 0}}
    },
    "layer": [
      {"data": {"name": "columns"}, "transform": [{"filter": "datum.group == 'g4'"}], "mark": {"type": "point", "opacity": 0}, "encoding": {"y": {"value": 0}}},
      {"data": {"name": "cells"}, "transform": [{"lookup": "c", "from": {"data": {"name": "columns"}, "key": "c", "fields": ["col", "group"]}}, {"filter": "datum.group == 'g4' && datum.p === null"}],
       "mark": {"type": "rect", "fill": "#e5e5e5", "stroke": "white", "strokeWidth": 1.2}},
      {"data": {"name": "cells"}, "transform": [{"lookup": "c", "from": {"data": {"name": "columns"}, "key": "c", "fields": ["col", "group"]}}, {"filter": "datum.group == 'g4' && datum.p !== null"}],
       "mark": {"type": "rect", "stroke": "white", "strokeWidth": 1.2},
       "encoding": {"color": {"field": "p", "type": "quantitative", "legend": null, "scale": {"domain": [1.4, 12.4], "range": ["#fa8072", "#8b0000"], "interpolate": "rgb"}}}},
      {"data": {"values": [{"edge": "start"}]}, "mark": {"type": "rule", "xOffset": -4, "yOffset": 9, "x2Offset": 106, "y2Offset": 142, "color": "#666666", "strokeWidth": 0.9, "strokeDash": [1, 1.6]},
       "encoding": {"x": {"value": 0}, "x2": {"value": 0}, "y": {"value": "height"}, "y2": {"value": "height"}}}
    ]
  },
  {
    "width": 104.2, "height": 225,
    "view": {"stroke": "#50545b", "strokeWidth": 5.6},
    "encoding": {
      "x": {"field": "col", "type": "nominal", "scale": {"paddingInner": 0, "paddingOuter": 0.06},
        "axis": {"title": null, "labelAngle": 49, "labelAlign": "left", "labelBaseline": "middle", "labelPadding": 11, "labelFontSize": 16, "labelColor": "#1a1a1a", "labelLimit": 400, "labelOverlap": false, "labelBound": false, "labelFlush": false, "labelExpr": "split(datum.value, '|')[1]", "ticks": false, "domain": false, "grid": true, "gridColor": "#eeeeee", "bandPosition": 0}},
      "y": {"field": "virus", "type": "nominal", "scale": {"domain": ["HHV-6A", "HHV-7", "HHV-6B", "HCMV", "HAdV-A", "HSV-1", "HAdV-C", "Variola", "HSV-2", "KSHV"], "paddingInner": 0, "paddingOuter": 0.09},
        "axis": {"title": null, "labels": false, "ticks": false, "domain": false, "grid": true, "gridColor": "#eeeeee", "bandPosition": 0}}
    },
    "layer": [
      {"data": {"name": "columns"}, "transform": [{"filter": "datum.group == 'g5'"}], "mark": {"type": "point", "opacity": 0}, "encoding": {"y": {"value": 0}}},
      {"data": {"name": "cells"}, "transform": [{"lookup": "c", "from": {"data": {"name": "columns"}, "key": "c", "fields": ["col", "group"]}}, {"filter": "datum.group == 'g5' && datum.p === null"}],
       "mark": {"type": "rect", "fill": "#e5e5e5", "stroke": "white", "strokeWidth": 1.2}},
      {"data": {"name": "cells"}, "transform": [{"lookup": "c", "from": {"data": {"name": "columns"}, "key": "c", "fields": ["col", "group"]}}, {"filter": "datum.group == 'g5' && datum.p !== null"}],
       "mark": {"type": "rect", "stroke": "white", "strokeWidth": 1.2},
       "encoding": {"color": {"field": "p", "type": "quantitative", "legend": null, "scale": {"domain": [1.4, 12.4], "range": ["#fa8072", "#8b0000"], "interpolate": "rgb"}}}},
      {"data": {"values": [{"edge": "start"}]}, "mark": {"type": "rule", "xOffset": -4, "yOffset": 9, "x2Offset": 106, "y2Offset": 142, "color": "#666666", "strokeWidth": 0.9, "strokeDash": [1, 1.6]},
       "encoding": {"x": {"value": 0}, "x2": {"value": 0}, "y": {"value": "height"}, "y2": {"value": "height"}}}
    ]
  },
  {
    "width": 70.8, "height": 225,
    "view": {"stroke": "#50545b", "strokeWidth": 5.6},
    "encoding": {
      "x": {"field": "col", "type": "nominal", "scale": {"paddingInner": 0, "paddingOuter": 0.06},
        "axis": {"title": null, "labelAngle": 49, "labelAlign": "left", "labelBaseline": "middle", "labelPadding": 11, "labelFontSize": 16, "labelColor": "#1a1a1a", "labelLimit": 400, "labelOverlap": false, "labelBound": false, "labelFlush": false, "labelExpr": "split(datum.value, '|')[1]", "ticks": false, "domain": false, "grid": true, "gridColor": "#eeeeee", "bandPosition": 0}},
      "y": {"field": "virus", "type": "nominal", "scale": {"domain": ["HHV-6A", "HHV-7", "HHV-6B", "HCMV", "HAdV-A", "HSV-1", "HAdV-C", "Variola", "HSV-2", "KSHV"], "paddingInner": 0, "paddingOuter": 0.09},
        "axis": {"title": null, "labels": false, "ticks": false, "domain": false, "grid": true, "gridColor": "#eeeeee", "bandPosition": 0}}
    },
    "layer": [
      {"data": {"name": "columns"}, "transform": [{"filter": "datum.group == 'g6'"}], "mark": {"type": "point", "opacity": 0}, "encoding": {"y": {"value": 0}}},
      {"data": {"name": "cells"}, "transform": [{"lookup": "c", "from": {"data": {"name": "columns"}, "key": "c", "fields": ["col", "group"]}}, {"filter": "datum.group == 'g6' && datum.p === null"}],
       "mark": {"type": "rect", "fill": "#e5e5e5", "stroke": "white", "strokeWidth": 1.2}},
      {"data": {"name": "cells"}, "transform": [{"lookup": "c", "from": {"data": {"name": "columns"}, "key": "c", "fields": ["col", "group"]}}, {"filter": "datum.group == 'g6' && datum.p !== null"}],
       "mark": {"type": "rect", "stroke": "white", "strokeWidth": 1.2},
       "encoding": {"color": {"field": "p", "type": "quantitative", "legend": null, "scale": {"domain": [1.4, 12.4], "range": ["#fa8072", "#8b0000"], "interpolate": "rgb"}}}},
      {"data": {"values": [{"edge": "start"}]}, "mark": {"type": "rule", "xOffset": -4, "yOffset": 9, "x2Offset": 106, "y2Offset": 142, "color": "#666666", "strokeWidth": 0.9, "strokeDash": [1, 1.6]},
       "encoding": {"x": {"value": 0}, "x2": {"value": 0}, "y": {"value": "height"}, "y2": {"value": "height"}}}
    ]
  },
  {
    "width": 137.6, "height": 225,
    "view": {"stroke": "#50545b", "strokeWidth": 5.6},
    "title": {"text": ["AD association", "enrichment"], "anchor": "start", "frame": "group", "align": "center", "dx": 415, "offset": 29, "baseline": "bottom", "fontSize": 13, "fontWeight": "normal", "lineHeight": 15, "color": "#111111"},
    "encoding": {
      "x": {"field": "col", "type": "nominal", "scale": {"paddingInner": 0, "paddingOuter": 0.06},
        "axis": {"title": null, "labelAngle": 49, "labelAlign": "left", "labelBaseline": "middle", "labelPadding": 11, "labelFontSize": 16, "labelColor": "#1a1a1a", "labelLimit": 400, "labelOverlap": false, "labelBound": false, "labelFlush": false, "labelExpr": "split(datum.value, '|')[1]", "ticks": false, "domain": false, "grid": true, "gridColor": "#eeeeee", "bandPosition": 0}},
      "y": {"field": "virus", "type": "nominal", "scale": {"domain": ["HHV-6A", "HHV-7", "HHV-6B", "HCMV", "HAdV-A", "HSV-1", "HAdV-C", "Variola", "HSV-2", "KSHV"], "paddingInner": 0, "paddingOuter": 0.09},
        "axis": {"title": null, "orient": "right", "ticks": false, "domain": false, "grid": true, "gridColor": "#eeeeee", "bandPosition": 0, "labelOffset": 2.5, "labelPadding": 4, "labelFontSize": 21, "labelColor": "#111111", "labelBaseline": "middle", "labelLimit": 200}}
    },
    "layer": [
      {"data": {"name": "columns"}, "transform": [{"filter": "datum.group == 'g7'"}], "mark": {"type": "point", "opacity": 0}, "encoding": {"y": {"value": 0}}},
      {"data": {"name": "cells"}, "transform": [{"lookup": "c", "from": {"data": {"name": "columns"}, "key": "c", "fields": ["col", "group"]}}, {"filter": "datum.group == 'g7' && datum.p === null"}],
       "mark": {"type": "rect", "fill": "#e5e5e5", "stroke": "white", "strokeWidth": 1.2}},
      {"data": {"name": "cells"}, "transform": [{"lookup": "c", "from": {"data": {"name": "columns"}, "key": "c", "fields": ["col", "group"]}}, {"filter": "datum.group == 'g7' && datum.p !== null"}],
       "mark": {"type": "rect", "stroke": "white", "strokeWidth": 1.2},
       "encoding": {"color": {"field": "p", "type": "quantitative", "legend": null, "scale": {"domain": [1.4, 12.4], "range": ["#fa8072", "#8b0000"], "interpolate": "rgb"}}}},
      {"data": {"values": [{"edge": "start"}]}, "mark": {"type": "rule", "xOffset": -4, "yOffset": 9, "x2Offset": 106, "y2Offset": 142, "color": "#666666", "strokeWidth": 0.9, "strokeDash": [1, 1.6]},
       "encoding": {"x": {"value": 0}, "x2": {"value": 0}, "y": {"value": "height"}, "y2": {"value": "height"}}},
      {"data": {"values": [{"edge": "end"}]}, "mark": {"type": "rule", "xOffset": 2, "yOffset": 9, "x2Offset": 112, "y2Offset": 142, "color": "#666666", "strokeWidth": 0.9, "strokeDash": [1, 1.6]},
       "encoding": {"x": {"value": "width"}, "x2": {"value": "width"}, "y": {"value": "height"}, "y2": {"value": "height"}}}
    ]
  }
]
}
